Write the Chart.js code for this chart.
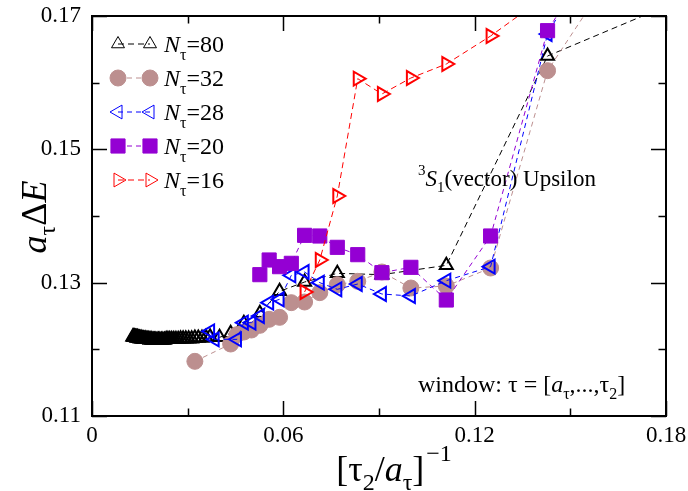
<!DOCTYPE html>
<html>
<head>
<meta charset="utf-8">
<script src="https://cdn.jsdelivr.net/npm/chart.js@4.4.0/dist/chart.umd.min.js"></script>
<style>
  body { margin: 0; background: #fff; }
  #wrap { width: 688px; height: 491px; }
</style>
</head>
<body>
<div id="wrap"><canvas id="graph" width="688" height="491"></canvas></div>
<script>
const ctx = document.getElementById('graph');

const SERIF = "'Liberation Serif', 'Times New Roman', serif";

// fit window end tau2/a_tau and effective mass a_tau*dE, one pair of lists per N_tau
const tau80 = [78, 77, 76, 75, 74, 73, 72, 71, 70, 69, 68, 67, 66, 65, 64, 63, 62, 61, 60, 59,
  58, 57, 56, 55, 54, 53, 52, 51, 50, 49, 48, 47, 46, 45, 44, 43, 42, 41, 40, 39,
  38, 37, 36, 35, 34, 33, 32, 31, 30, 29, 28, 27, 25, 23, 21, 19, 17, 15, 13, 11, 9, 7, 5];
const dE80 = [0.1219, 0.1219, 0.1218, 0.1219, 0.1218, 0.1218, 0.1218, 0.1217, 0.1218, 0.1217,
  0.1217, 0.1217, 0.1216, 0.1217, 0.1216, 0.1216, 0.1216, 0.1215, 0.1216, 0.1215,
  0.1215, 0.1215, 0.1215, 0.1214, 0.1215, 0.1214, 0.1214, 0.1214, 0.1214, 0.1214,
  0.1214, 0.1214, 0.1214, 0.1214, 0.1214, 0.1215, 0.1215, 0.1215, 0.1215, 0.1215,
  0.1215, 0.1215, 0.1216, 0.1216, 0.1216, 0.1216, 0.1216, 0.1217, 0.1217, 0.1217,
  0.1218, 0.1219, 0.1218, 0.1224, 0.1239, 0.1254, 0.1287, 0.1301, 0.1314, 0.1312,
  0.1326, 0.1640, 0.1755];

const tau32 = [31, 23, 22, 21, 20, 19, 18, 17, 16, 15, 14, 13, 12, 11, 10, 9, 8, 7, 6];
const dE32 = [0.1182, 0.1208, 0.1222, 0.1226, 0.1229, 0.1236, 0.1245, 0.1248, 0.1270, 0.1271,
  0.1285, 0.1297, 0.1302, 0.1316, 0.1292, 0.1295, 0.1322, 0.1618, 0.1790];

const tau28 = [27, 26, 22, 21, 20, 19, 18, 17, 16, 15, 14, 13, 12, 11, 10, 9, 8, 7, 6];
const dE28 = [0.1227, 0.1215, 0.1215, 0.1240, 0.1240, 0.1250, 0.1270, 0.1275, 0.1311, 0.1316,
  0.1300, 0.1290, 0.1298, 0.1283, 0.1280, 0.1303, 0.1324, 0.1673, 0.1870];

const tau20 = [19, 18, 17, 16, 15, 14, 13, 12, 11, 10, 9, 8, 7, 6];
const dE20 = [0.1312, 0.1334, 0.1324, 0.1329, 0.1371, 0.1370, 0.1353, 0.1342, 0.1315, 0.1323,
  0.1274, 0.1370, 0.1678, 0.1860];

const tau16 = [15, 14, 13, 12, 11, 10, 9, 8, 7];
const dE16 = [0.1286, 0.1334, 0.1430, 0.1606, 0.1583, 0.1607, 0.1628, 0.1670, 0.1732];

const legendLabels = ['80', '32', '28', '20', '16'];

// axis ranges and tick steps
const xMin = 0, xMax = 0.18, xStep = 0.03;
const yMin = 0.11, yMax = 0.17, yStep = 0.01;

function toXY(tau, dE) {
  return tau.map((t, i) => ({ x: 1 / t, y: dE[i] }));
}

const series = [
  { label: legendLabels[0], data: toXY(tau80, dE80), color: '#000000', style: 'triangle', radius: 7.5, rotation: 0, filled: false, dash: [6, 4] },
  { label: legendLabels[1], data: toXY(tau32, dE32), color: '#bc8f8f', style: 'circle', radius: 8, rotation: 0, filled: true, dash: [5, 4] },
  { label: legendLabels[2], data: toXY(tau28, dE28), color: '#0000ff', style: 'triangle', radius: 8, rotation: -90, filled: false, dash: [5, 4] },
  { label: legendLabels[3], data: toXY(tau20, dE20), color: '#9400d3', style: 'rect', radius: 10, rotation: 0, filled: true, dash: [5, 4] },
  { label: legendLabels[4], data: toXY(tau16, dE16), color: '#ff0000', style: 'triangle', radius: 8, rotation: 90, filled: false, dash: [6, 4] }
];

// draw a row of text pieces (normal, italic, sub/superscript) one after the other
function drawRuns(c, runs, x, y, align) {
  let w = 0;
  runs.forEach(r => {
    c.font = r.font;
    r.w = c.measureText(r.text).width;
    w += r.w + (r.gap || 0);
  });
  let cx = align === 'center' ? x - w / 2 : x;
  runs.forEach(r => {
    c.font = r.font;
    c.fillText(r.text, cx, y + (r.dy || 0));
    cx += r.w + (r.gap || 0);
  });
}

const frameAndLabels = {
  id: 'frameAndLabels',
  afterDatasetsDraw(chart) {
    const c = chart.ctx;
    const a = chart.chartArea;
    const xs = chart.scales.x, ys = chart.scales.y;
    c.save();
    c.strokeStyle = '#000';
    c.lineWidth = 1.5;
    c.beginPath();
    xs.ticks.forEach(t => {
      const px = Math.round(xs.getPixelForValue(t.value)) + 0.5;
      const len = Math.round(t.value / xStep) % 2 === 0 ? 15 : 7.5;
      c.moveTo(px, a.bottom); c.lineTo(px, a.bottom - len);
      c.moveTo(px, a.top); c.lineTo(px, a.top + len);
    });
    ys.ticks.forEach(t => {
      const py = Math.round(ys.getPixelForValue(t.value)) + 0.5;
      const len = Math.round(t.value / yStep) % 2 === 1 ? 15 : 7.5;
      c.moveTo(a.left, py); c.lineTo(a.left + len, py);
      c.moveTo(a.right, py); c.lineTo(a.right - len, py);
    });
    c.stroke();
    c.lineWidth = 2;
    c.strokeRect(a.left, a.top, a.right - a.left, a.bottom - a.top);
    c.restore();
  },
  afterDraw(chart) {
    const c = chart.ctx;
    c.save();
    c.fillStyle = '#000';
    c.textBaseline = 'alphabetic';

    // legend
    series.forEach((s, i) => {
      const y = 44 + i * 34;
      c.save();
      c.strokeStyle = s.color;
      c.lineWidth = 1;
      c.setLineDash(s.dash);
      c.beginPath();
      c.moveTo(118, y); c.lineTo(150, y);
      c.stroke();
      c.restore();
      [118, 150].forEach(px => {
        c.save();
        c.strokeStyle = s.color;
        c.fillStyle = s.filled ? s.color : 'rgba(0,0,0,0)';
        Chart.helpers.drawPoint(c, {
          pointStyle: s.style, radius: s.radius, rotation: s.rotation,
          borderWidth: s.filled ? 1 : 2
        }, px, y);
        c.restore();
      });
      drawRuns(c, [
        { text: 'N', font: 'italic 24px ' + SERIF },
        { text: 'τ', font: '16px ' + SERIF, dy: 8 },
        { text: '=' + s.label, font: '24px ' + SERIF }
      ], 164, y + 8, 'left');
    });

    // state label
    drawRuns(c, [
      { text: '3', font: '15px ' + SERIF, dy: -11 },
      { text: 'S', font: 'italic 23px ' + SERIF },
      { text: '1', font: '15px ' + SERIF, dy: 6 },
      { text: '(vector) Upsilon', font: '23px ' + SERIF }
    ], 418, 186, 'left');

    // fit window
    drawRuns(c, [
      { text: 'window: τ = [', font: '24px ' + SERIF },
      { text: 'a', font: 'italic 24px ' + SERIF },
      { text: 'τ', font: '16px ' + SERIF, dy: 7 },
      { text: ',...,τ', font: '24px ' + SERIF },
      { text: '2', font: '16px ' + SERIF, dy: 7 },
      { text: ']', font: '24px ' + SERIF }
    ], 418, 392, 'left');

    // x axis title
    drawRuns(c, [
      { text: '[τ', font: '36px ' + SERIF },
      { text: '2', font: '24px ' + SERIF, dy: 9 },
      { text: '/', font: '36px ' + SERIF },
      { text: 'a', font: 'italic 36px ' + SERIF },
      { text: 'τ', font: '24px ' + SERIF, dy: 9 },
      { text: ']', font: '36px ' + SERIF, gap: 2 },
      { text: '−1', font: '24px ' + SERIF, dy: -20 }
    ], 394, 481, 'center');

    // y axis title
    c.translate(46, 217);
    c.rotate(-Math.PI / 2);
    drawRuns(c, [
      { text: 'a', font: 'italic 36px ' + SERIF },
      { text: 'τ', font: '24px ' + SERIF, dy: 9 },
      { text: 'Δ', font: '36px ' + SERIF },
      { text: 'E', font: 'italic 36px ' + SERIF }
    ], 0, 0, 'center');
    c.restore();
  }
};

const datasets = series.map((s, i) => ({
  label: s.label,
  data: s.data,
  showLine: true,
  borderColor: s.color,
  borderWidth: 1,
  borderDash: s.dash,
  tension: 0,
  pointStyle: s.style,
  pointRadius: s.radius,
  pointRotation: s.rotation,
  pointBorderWidth: s.filled ? 1 : 2,
  pointBorderColor: s.color,
  pointBackgroundColor: s.filled ? s.color : 'rgba(0,0,0,0)',
  order: series.length - 1 - i
}));

const tickFont = { family: SERIF, size: 23 };

new Chart(ctx, {
  type: 'scatter',
  data: { datasets: datasets },
  options: {
    responsive: false,
    animation: false,
    devicePixelRatio: 1,
    layout: { padding: { left: 0, right: 22, top: 16, bottom: 0 } },
    plugins: {
      legend: { display: false },
      tooltip: { enabled: false }
    },
    scales: {
      x: {
        type: 'linear',
        min: xMin,
        max: xMax,
        grid: { display: false, drawTicks: false },
        border: { display: false },
        ticks: {
          stepSize: xStep,
          autoSkip: false,
          maxRotation: 0,
          padding: 6,
          color: '#000',
          font: tickFont,
          callback: v => {
            const k = Math.round(v / xStep);
            if (k % 2 !== 0) return '';
            return k === 0 ? '0' : (k * xStep).toFixed(2);
          }
        },
        afterFit: scale => {
          scale.height = 75;
          scale.paddingLeft = 0;
          scale.paddingRight = 0;
        }
      },
      y: {
        type: 'linear',
        min: yMin,
        max: yMax,
        grid: { display: false, drawTicks: false },
        border: { display: false },
        ticks: {
          stepSize: yStep,
          autoSkip: false,
          padding: 11,
          color: '#000',
          font: tickFont,
          callback: v => {
            const k = Math.round(v / yStep);
            return k % 2 === 1 ? (k * yStep).toFixed(2) : '';
          }
        },
        afterFit: scale => {
          scale.width = 92;
          scale.paddingTop = 0;
          scale.paddingBottom = 0;
        }
      }
    }
  },
  plugins: [frameAndLabels]
});
</script>
</body>
</html>
